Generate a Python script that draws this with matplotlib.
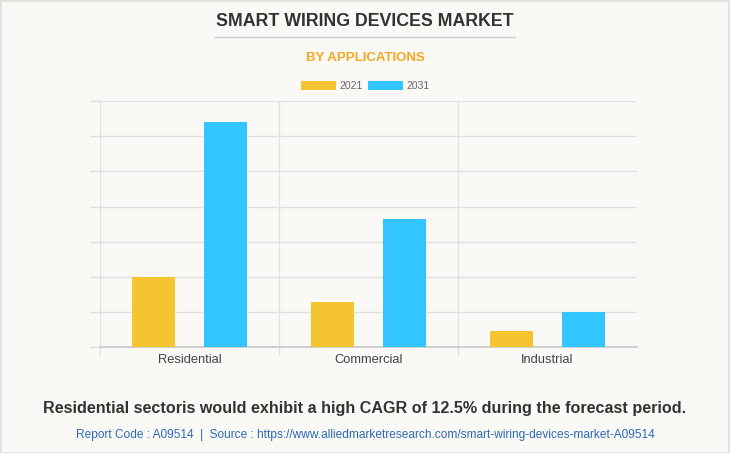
import matplotlib
matplotlib.use("Agg")
import matplotlib.pyplot as plt
import numpy as np
from matplotlib.patches import Rectangle
from matplotlib.lines import Line2D

categories = ["Residential", "Commercial", "Industrial"]
years = ["2021", "2031"]
values_2021 = [2.01, 1.29, 0.46]
values_2031 = [6.41, 3.65, 0.99]

title = "SMART WIRING DEVICES MARKET"
subtitle = "BY APPLICATIONS"
note = "Residential sectoris would exhibit a high CAGR of 12.5% during the forecast period."
source = "Report Code : A09514  |  Source : https://www.alliedmarketresearch.com/smart-wiring-devices-market-A09514"

bg = "#faf9f5"
c2021 = "#f4c531"
c2031 = "#33c5ff"
sans = ["Liberation Sans", "DejaVu Sans"]

fig = plt.figure(figsize=(7.3, 4.53), dpi=100, facecolor=bg)
W, H = 730, 453

# frame around the picture
fig.add_artist(Rectangle((0.5 / W, 0.5 / H), 1 - 1.5 / W, 1 - 1.5 / H, transform=fig.transFigure,
                         fill=False, edgecolor="#dddddd", linewidth=1.2))

ax = fig.add_axes([100 / W, 1 - 347.3 / H, 537 / W, 246.3 / H])
ax.set_facecolor(bg)

x = np.arange(len(categories))
bw = 0.24
ax.bar(x - 0.2, values_2021, bw, color=c2021, label=years[0], zorder=3)
ax.bar(x + 0.2, values_2031, bw, color=c2031, label=years[1], zorder=3)

ax.set_xlim(-0.5, 2.5)
ax.set_ylim(0, 7)
ax.set_yticks(range(8))
ax.set_yticklabels([])
ax.tick_params(axis="y", length=7.5, color="#dddddd", width=1)
ax.grid(axis="y", color="#e0e0e0", linewidth=1, zorder=0)

ax.set_xticks(x)
ax.set_xticklabels(categories, fontsize=9.3, color="#444444", family=sans)
ax.tick_params(axis="x", length=0, pad=5)
ax.set_xticks([-0.5, 0.5, 1.5], minor=True)
ax.tick_params(axis="x", which="minor", length=6, color="#dddddd", width=1)
for b in [-0.5, 0.5, 1.5]:
    ax.axvline(b, color="#e2e2e2", linewidth=1, zorder=0)

for s in ["top", "right", "left"]:
    ax.spines[s].set_visible(False)
ax.spines["bottom"].set_color("#c8c8c8")
ax.spines["bottom"].set_linewidth(1.2)

fig.text(0.5, 1 - 21 / H, title, ha="center", va="center", fontsize=12.8, fontweight="bold",
         color="#333333", family=sans)
fig.add_artist(Line2D([215 / W, 515 / W], [1 - 37 / H, 1 - 37 / H], transform=fig.transFigure,
                      color="#cccccc", linewidth=1))
fig.text(0.5, 1 - 58 / H, subtitle, ha="center", va="center", fontsize=9.5, fontweight="bold",
         color="#f5a623", family=sans)

fig.legend(loc="center", bbox_to_anchor=(0.5, 1 - 86 / H), ncol=2, frameon=False,
           handlelength=3.4, handleheight=0.9, columnspacing=0.5, handletextpad=0.3,
           labelcolor="#666666", prop={"family": sans, "size": 7.5})

fig.text(0.5, 1 - 408 / H, note, ha="center", va="center", fontsize=11.6, fontweight="bold",
         color="#333333", family=sans)
fig.text(0.5, 1 - 435 / H, source, ha="center", va="center", fontsize=8.6,
         color="#2a6ab8", family=sans)

fig.savefig("out.png", dpi=100, facecolor=bg)
